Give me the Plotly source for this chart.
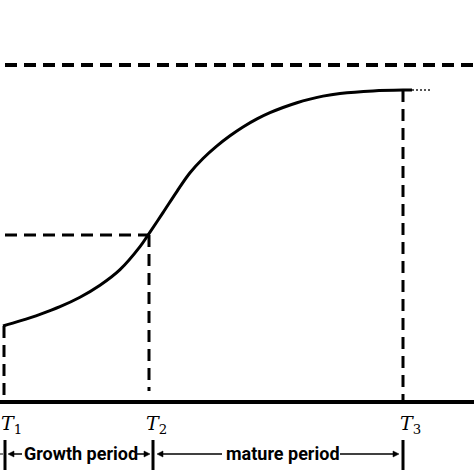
import plotly.graph_objects as go

# Growth curve (time vs. value, arbitrary units)
curve_t = [3, 20, 40, 60, 80, 100, 120, 140, 148, 163, 177, 190, 203, 217, 230, 243, 257, 270, 283, 297, 310, 323, 340, 373, 403, 412]
curve_v = [76, 81.1, 87.7, 95.3, 104.7, 116.7, 132.3, 155.3, 166.9, 189.4, 210.7, 229.2, 243.5, 256.1,
           266.2, 275, 283.1, 289.3, 294.5, 299.3, 302.9, 305.9, 308.5, 311.1, 312, 312]
tail_t = [412, 430]
tail_v = [312, 312]

# Characteristic times and levels
T_names = ["T1", "T2", "T3"]
T_vals = [4, 149, 403]
T_levels = [76, 167, 312]
K_level = 337          # upper asymptote
periods = ["Growth period", "mature period"]

BLACK = "#000000"
DASH = "12px,7px"

fig = go.Figure()

# upper asymptote
fig.add_trace(go.Scatter(x=[5, 474], y=[K_level, K_level], mode="lines",
                         line=dict(color=BLACK, width=4, dash=DASH), hoverinfo="skip"))
# horizontal dashed at T2 level
fig.add_trace(go.Scatter(x=[5, T_vals[1]], y=[T_levels[1], T_levels[1]], mode="lines",
                         line=dict(color=BLACK, width=3, dash=DASH), hoverinfo="skip"))
# vertical dashed at T1, T2, T3
vend = [1, 11, 2]
for tv, lv, ve in zip(T_vals, T_levels, vend):
    fig.add_trace(go.Scatter(x=[tv, tv], y=[lv, ve], mode="lines",
                             line=dict(color=BLACK, width=3, dash=DASH), hoverinfo="skip"))

# the curve
fig.add_trace(go.Scatter(x=curve_t, y=curve_v, mode="lines", line_shape="spline",
                         line=dict(color=BLACK, width=3, smoothing=1.0), hoverinfo="skip"))
fig.add_trace(go.Scatter(x=tail_t, y=tail_v, mode="lines",
                         line=dict(color="#555555", width=2, dash="2px,2px"), hoverinfo="skip"))

shapes = []
# x axis line
shapes.append(dict(type="line", xref="paper", x0=0, x1=1, yref="y", y0=0, y1=0,
                   line=dict(color=BLACK, width=4)))
# period boundary bars
bar_x = [T_vals[0] + 1, T_vals[1] + 4, T_vals[2]]
for bx in bar_x:
    shapes.append(dict(type="line", xref="x", yref="y", x0=bx, x1=bx, y0=-38, y1=-68,
                       line=dict(color=BLACK, width=3)))
# little stub left of T1 bar
shapes.append(dict(type="line", xref="x", yref="y", x0=0, x1=3, y0=-52, y1=-52,
                   line=dict(color=BLACK, width=1)))

AY = -52


def arrow(x_from, x_to, head=6):
    """line from x_from to x_to with an arrow head at x_to"""
    d = 1 if x_to > x_from else -1
    base = x_to - d * head
    shapes.append(dict(type="line", xref="x", yref="y", x0=x_from, x1=base, y0=AY, y1=AY,
                       line=dict(color=BLACK, width=1.5)))
    shapes.append(dict(type="path", xref="x", yref="y",
                       path="M %f,%f L %f,%f L %f,%f Z" % (x_to, AY, base, AY + 3, base, AY - 3),
                       fillcolor=BLACK, line=dict(color=BLACK, width=0.5)))


# growth period arrows
arrow(22, bar_x[0] + 3)
arrow(137, bar_x[1] - 3)
# mature period arrows
arrow(222, bar_x[1] + 4)
arrow(340, bar_x[2] - 4)

annotations = []
# T labels
for name, tv in zip(T_names, T_vals):
    annotations.append(dict(x=tv + 7, y=-22, xref="x", yref="y", showarrow=False,
                            text="<i>T</i><sub>%s</sub>" % name[1],
                            font=dict(family="DejaVu Serif", size=19, color=BLACK)))

pfont = dict(family="Roboto", size=18, color=BLACK)
annotations.append(dict(x=81, y=-51, xref="x", yref="y", showarrow=False,
                        text="<b>%s</b>" % periods[0], font=pfont))
annotations.append(dict(x=283, y=-51, xref="x", yref="y", showarrow=False,
                        text="<b>%s</b>" % periods[1], font=pfont))

fig.update_layout(
    width=474, height=474,
    margin=dict(l=0, r=0, t=0, b=0),
    paper_bgcolor="white", plot_bgcolor="white",
    showlegend=False,
    xaxis=dict(range=[0, 474], visible=False, fixedrange=True),
    yaxis=dict(range=[-72, 402], visible=False, fixedrange=True),
    shapes=shapes, annotations=annotations,
)

fig.write_html("out.html", config={"displayModeBar": False},
               post_script="document.body.style.margin='0px';document.body.style.overflow='hidden';")
